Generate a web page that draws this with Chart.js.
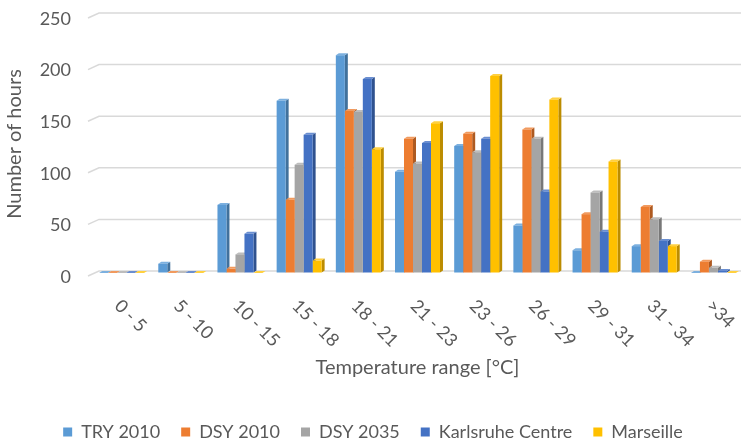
<!DOCTYPE html>
<html>
<head>
<meta charset="utf-8">
<script src="https://cdn.jsdelivr.net/npm/chart.js@4/dist/chart.umd.min.js"></script>
<style>
  html, body { margin: 0; padding: 0; background: #fff; }
  #wrap { width: 747px; height: 444px; }
</style>
</head>
<body>
<div id="wrap"><canvas id="chart" width="747" height="444"></canvas></div>
<script>
// data
const categories = ['0 - 5', '5 - 10', '10 - 15', '15 - 18', '18 - 21', '21 - 23', '23 - 26', '26 - 29', '29 - 31', '31 - 34', '>34'];
const try2010 = [0, 9, 66, 167, 211, 98, 123, 46, 22, 26, 0];
const dsy2010 = [0, 0, 4, 71, 157, 130, 135, 139, 57, 64, 11];
const dsy2035 = [0, 0, 18, 105, 156, 106, 117, 130, 78, 52, 5];
const karlsruhe = [0, 0, 38, 134, 188, 126, 130, 79, 40, 31, 2];
const marseille = [0, 0, 0, 12, 120, 145, 191, 168, 108, 26, 0];
const yTicks = [0, 50, 100, 150, 200, 250];

const textColor = '#595959';
const font = "Lato, 'Open Sans', sans-serif";

function series(label, data, front, side, top) {
    return {
        label: label,
        data: data,
        backgroundColor: front,
        sideColor: side,
        topColor: top,
        borderWidth: 0,
        barPercentage: 1.0,
        categoryPercentage: 0.76
    };
}

// fake 3D: back-wall gridlines, then side and top faces of the bars
const DX = 3, DY = 2;
const depthPlugin = {
    id: 'depth',
    beforeDatasetsDraw(chart) {
        const ctx = chart.ctx;
        const ys = chart.scales.y;
        const area = chart.chartArea;
        ctx.save();
        ctx.strokeStyle = '#D9D9D9';
        ctx.lineWidth = 1.5;
        yTicks.forEach(v => {
            const y = ys.getPixelForValue(v) - 2;
            ctx.beginPath();
            ctx.moveTo(area.left - 4, y + 5);
            ctx.lineTo(area.left + 7, y);
            ctx.lineTo(area.right - 2, y);
            ctx.stroke();
        });
        ctx.restore();

        chart.data.datasets.forEach((ds, i) => {
            const meta = chart.getDatasetMeta(i);
            meta.data.forEach(bar => {
                const p = bar.getProps(['x', 'y', 'base', 'width'], true);
                const l = p.x - p.width / 2, r = p.x + p.width / 2;
                ctx.fillStyle = ds.sideColor;
                ctx.beginPath();
                ctx.moveTo(r, p.y);
                ctx.lineTo(r + DX, p.y - DY);
                ctx.lineTo(r + DX, p.base - DY);
                ctx.lineTo(r, p.base);
                ctx.closePath();
                ctx.fill();
                ctx.fillStyle = ds.topColor;
                ctx.beginPath();
                ctx.moveTo(l, p.y);
                ctx.lineTo(l + DX, p.y - DY);
                ctx.lineTo(r + DX, p.y - DY);
                ctx.lineTo(r, p.y);
                ctx.closePath();
                ctx.fill();
            });
        });
    }
};

// x labels rotated downwards like the original
const slantLabels = {
    id: 'slantLabels',
    afterDraw(chart) {
        const ctx = chart.ctx;
        const xs = chart.scales.x;
        ctx.save();
        ctx.fillStyle = textColor;
        ctx.font = '18px ' + font;
        ctx.textAlign = 'left';
        ctx.textBaseline = 'middle';
        categories.forEach((c, i) => {
            const x = xs.getPixelForValue(i) - 4;
            const y = xs.top + 30;
            ctx.save();
            ctx.translate(x, y);
            ctx.rotate(Math.PI / 4);
            ctx.fillText(c, 0, 0);
            ctx.restore();
        });
        ctx.restore();
    }
};

new Chart(document.getElementById('chart'), {
    type: 'bar',
    data: {
        labels: categories,
        datasets: [
            series('TRY 2010', try2010, '#5B9BD5', '#41719C', '#7CB0DF'),
            series('DSY 2010', dsy2010, '#ED7D31', '#AE5A21', '#F19A5E'),
            series('DSY 2035', dsy2035, '#A5A5A5', '#787878', '#BDBDBD'),
            series('Karlsruhe Centre', karlsruhe, '#4472C4', '#2F528F', '#6A8ED0'),
            series('Marseille', marseille, '#FFC000', '#BC8C00', '#FFD040')
        ]
    },
    options: {
        responsive: false,
        animation: false,
        layout: { padding: { left: 3, right: 4, top: 15, bottom: -7 } },
        plugins: {
            legend: {
                position: 'bottom',
                labels: {
                    color: textColor,
                    font: { family: font, size: 18 },
                    boxWidth: 9,
                    boxHeight: 9,
                    padding: 21
                }
            },
            tooltip: { enabled: false }
        },
        scales: {
            x: {
                grid: { display: false },
                border: { display: false },
                ticks: { display: false },
                title: {
                    display: true,
                    text: 'Temperature range [°C]',
                    color: textColor,
                    font: { family: font, size: 20 },
                    padding: { top: 75, bottom: 22 }
                }
            },
            y: {
                min: 0,
                max: 250,
                afterBuildTicks(axis) {
                    axis.ticks = yTicks.map(v => ({ value: v }));
                },
                afterFit(axis) {
                    axis.width = 89;
                    axis.paddingTop = 0;
                    axis.paddingBottom = 0;
                },
                grid: { drawOnChartArea: false, drawTicks: false },
                border: { display: false },
                ticks: {
                    color: textColor,
                    font: { family: font, size: 18 },
                    padding: 21,
                    labelOffset: 4
                },
                title: {
                    display: true,
                    text: 'Number of hours',
                    color: textColor,
                    font: { family: font, size: 20 },
                    padding: { top: 0, bottom: 0 }
                }
            }
        }
    },
    plugins: [depthPlugin, slantLabels]
});
</script>
</body>
</html>
